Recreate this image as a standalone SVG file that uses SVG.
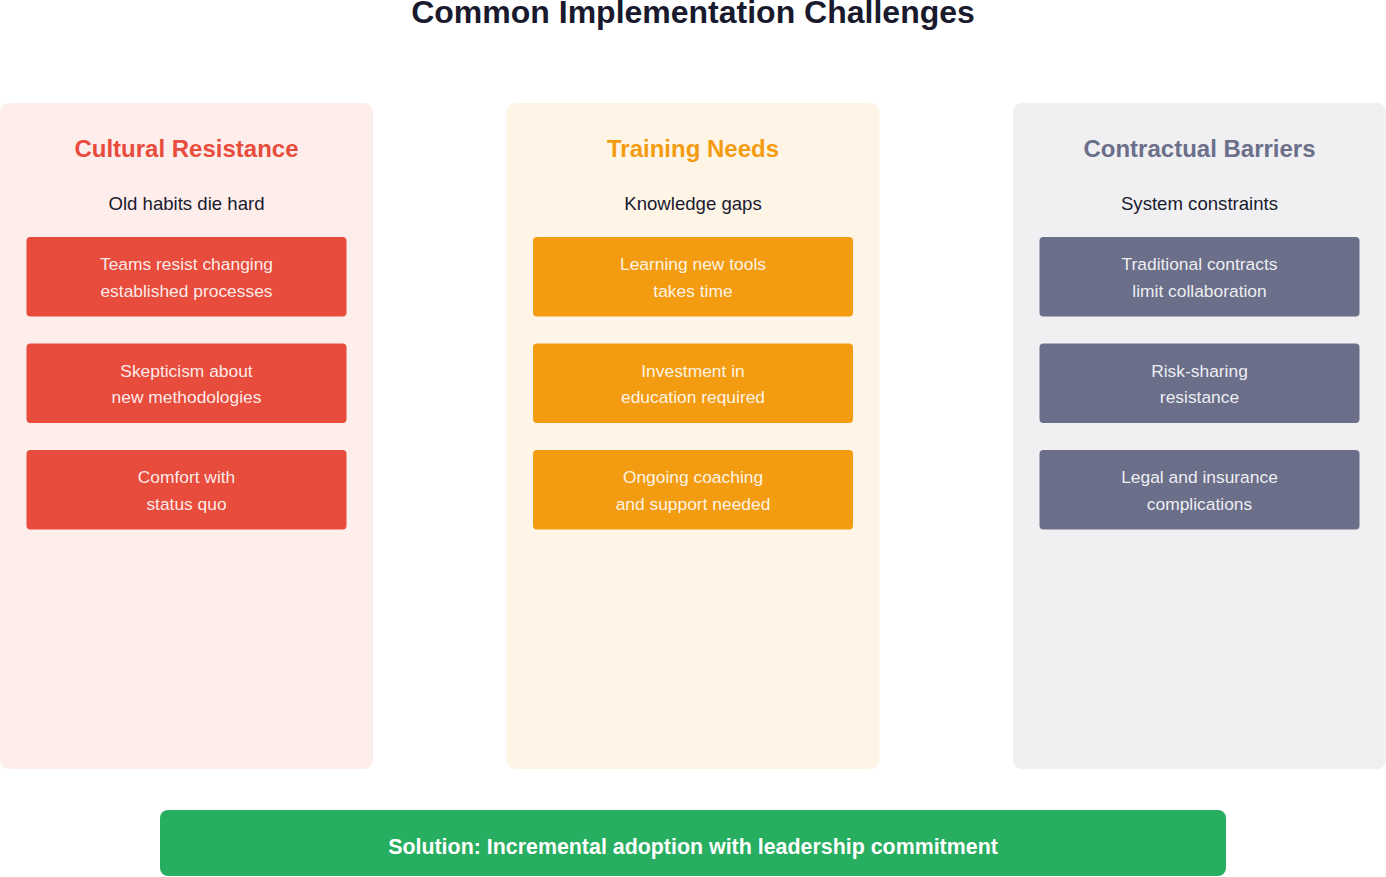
<svg xmlns="http://www.w3.org/2000/svg" width="1386" height="877" viewBox="0 0 1386 877">
<style>
text{font-family:"Liberation Sans",Arial,sans-serif;text-anchor:middle}
.title{font-size:32px;font-weight:bold;fill:#1a1a2e}
.hdr{font-size:24px;font-weight:bold}
.sub{font-size:18.6px;fill:#1a1a2e}
.bt{font-size:17.4px;fill:#ffffff;fill-opacity:0.9}
.sol{font-size:21.4px;font-weight:bold;fill:#ffffff}
</style>
<rect width="1386" height="877" fill="#ffffff"/>
<text class="title" x="693" y="23">Common Implementation Challenges</text>
<g id="col-cultural">
<rect x="0" y="103" width="373" height="666" rx="9" fill="#e74c3c" fill-opacity="0.1"/>
<text class="hdr" x="186.5" y="157" fill="#e74c3c">Cultural Resistance</text>
<text class="sub" x="186.5" y="210">Old habits die hard</text>
</g>
<g id="cultural-1"><rect x="26.5" y="237" width="320" height="79.5" rx="4" fill="#e74c3c"/><text class="bt" x="186.5" y="270">Teams resist changing</text><text class="bt" x="186.5" y="296.5">established processes</text></g>
<g id="cultural-2"><rect x="26.5" y="343.5" width="320" height="79.5" rx="4" fill="#e74c3c"/><text class="bt" x="186.5" y="376.5">Skepticism about</text><text class="bt" x="186.5" y="403">new methodologies</text></g>
<g id="cultural-3"><rect x="26.5" y="450" width="320" height="79.5" rx="4" fill="#e74c3c"/><text class="bt" x="186.5" y="483">Comfort with</text><text class="bt" x="186.5" y="509.5">status quo</text></g>
<g id="col-training">
<rect x="506.5" y="103" width="373" height="666" rx="9" fill="#f39c12" fill-opacity="0.1"/>
<text class="hdr" x="693" y="157" fill="#f39c12">Training Needs</text>
<text class="sub" x="693" y="210">Knowledge gaps</text>
</g>
<g id="training-1"><rect x="533" y="237" width="320" height="79.5" rx="4" fill="#f39c12"/><text class="bt" x="693" y="270">Learning new tools</text><text class="bt" x="693" y="296.5">takes time</text></g>
<g id="training-2"><rect x="533" y="343.5" width="320" height="79.5" rx="4" fill="#f39c12"/><text class="bt" x="693" y="376.5">Investment in</text><text class="bt" x="693" y="403">education required</text></g>
<g id="training-3"><rect x="533" y="450" width="320" height="79.5" rx="4" fill="#f39c12"/><text class="bt" x="693" y="483">Ongoing coaching</text><text class="bt" x="693" y="509.5">and support needed</text></g>
<g id="col-contractual">
<rect x="1013" y="103" width="373" height="666" rx="9" fill="#6b6f8a" fill-opacity="0.1"/>
<text class="hdr" x="1199.5" y="157" fill="#6b6f8a">Contractual Barriers</text>
<text class="sub" x="1199.5" y="210">System constraints</text>
</g>
<g id="contractual-1"><rect x="1039.5" y="237" width="320" height="79.5" rx="4" fill="#6b6f8a"/><text class="bt" x="1199.5" y="270">Traditional contracts</text><text class="bt" x="1199.5" y="296.5">limit collaboration</text></g>
<g id="contractual-2"><rect x="1039.5" y="343.5" width="320" height="79.5" rx="4" fill="#6b6f8a"/><text class="bt" x="1199.5" y="376.5">Risk-sharing</text><text class="bt" x="1199.5" y="403">resistance</text></g>
<g id="contractual-3"><rect x="1039.5" y="450" width="320" height="79.5" rx="4" fill="#6b6f8a"/><text class="bt" x="1199.5" y="483">Legal and insurance</text><text class="bt" x="1199.5" y="509.5">complications</text></g>
<g id="connectors"></g>
<g id="solution">
<rect x="160" y="810" width="1066" height="66" rx="8" fill="#27ae60"/>
<text class="sol" x="693" y="854">Solution: Incremental adoption with leadership commitment</text>
</g>
</svg>
